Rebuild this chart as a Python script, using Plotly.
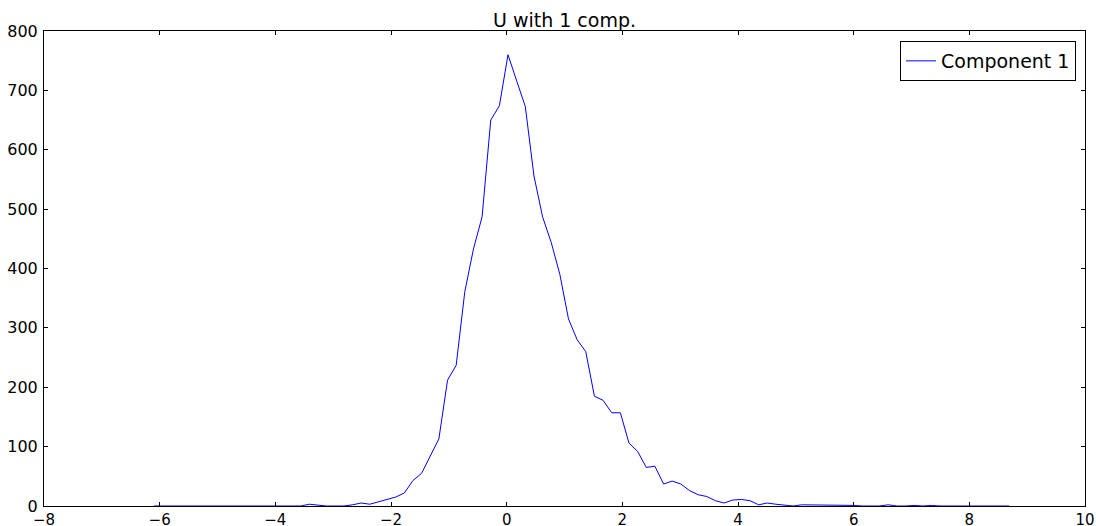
import plotly.graph_objects as go

bin_centers = [
    -6.102, -5.953, -5.803, -5.654, -5.504, -5.355, -5.206, -5.056, -4.907, -4.757,
    -4.608, -4.459, -4.309, -4.160, -4.010, -3.861, -3.712, -3.562, -3.413, -3.263,
    -3.114, -2.965, -2.815, -2.666, -2.516, -2.367, -2.218, -2.068, -1.919, -1.769,
    -1.620, -1.471, -1.321, -1.172, -1.022, -0.873, -0.724, -0.574, -0.425, -0.275,
    -0.126, 0.023, 0.173, 0.322, 0.472, 0.621, 0.770, 0.920, 1.069, 1.219,
    1.368, 1.517, 1.667, 1.816, 1.966, 2.115, 2.264, 2.414, 2.563, 2.713,
    2.862, 3.011, 3.161, 3.310, 3.460, 3.609, 3.758, 3.908, 4.057, 4.207,
    4.356, 4.505, 4.655, 4.804, 4.954, 5.103, 5.252, 5.402, 5.551, 5.701,
    5.850, 5.999, 6.149, 6.298, 6.448, 6.597, 6.746, 6.896, 7.045, 7.195,
    7.344, 7.493, 7.643, 7.792, 7.942, 8.091, 8.240, 8.390, 8.539, 8.689,
]

component_1 = [
    0, 0, 0, 0, 0, 0, 0, 0, 0, 0,
    0, 0, 0, 0, 0, 0, 1, 0, 3, 1,
    0, 0, 0, 2, 5, 3, 7, 11, 15, 22,
    43, 55, 83, 113, 212, 237, 361, 433, 487, 650,
    674, 760, 716, 673, 556, 487, 444, 390, 315, 280,
    260, 185, 178, 157, 157, 106, 92, 65, 67, 37,
    42, 37, 26, 19, 16, 9, 5, 10, 11, 9,
    2, 5, 3, 1, 0, 2, 2, 1, 1, 2,
    1, 1, 0, 0, 0, 2, 0, 0, 1, 0,
    1, 0, 0, 0, 0, 0, 0, 0, 0, 0,
]

x_ticks = [-8, -6, -4, -2, 0, 2, 4, 6, 8, 10]
y_ticks = [0, 100, 200, 300, 400, 500, 600, 700, 800]

fig = go.Figure()
fig.add_trace(go.Scatter(
    x=bin_centers, y=component_1, mode="lines", name="Component 1",
    line=dict(color="#0000ff", width=1),
))

axis_common = dict(
    showgrid=False, zeroline=False, showline=True, linecolor="#000000", linewidth=1,
    mirror="ticks", ticks="inside", ticklen=4, tickwidth=1, tickcolor="#000000",
    automargin=False,
)

fig.update_layout(
    width=1096, height=526,
    margin=dict(l=44, r=11, t=31, b=20),
    paper_bgcolor="white", plot_bgcolor="white",
    font=dict(family="DejaVu Sans", color="#000000"),
    title=dict(text="U with 1 comp.", x=0.5, xref="paper", y=1 - 20 / 526, yref="container",
               xanchor="center", yanchor="middle", automargin=False,
               font=dict(size=19, family="DejaVu Sans")),
    xaxis=dict(range=[-8, 10], tickvals=x_ticks,
               ticktext=[str(v).replace("-", "\u2212") for v in x_ticks],
               ticklabelstandoff=0,
               tickfont=dict(family="DejaVu Sans", size=15, color="#000000"),
               **axis_common),
    yaxis=dict(range=[0, 800], tickvals=y_ticks, ticktext=[str(v) for v in y_ticks],
               ticklabelstandoff=2,
               tickfont=dict(family="DejaVu Sans", size=16, color="#000000"),
               **axis_common),
    legend=dict(x=(1076 - 44) / 1041, y=(506 - 41) / 475, xanchor="right", yanchor="top",
                bordercolor="#000000", borderwidth=1, bgcolor="white",
                font=dict(size=19, family="DejaVu Sans")),
    showlegend=True,
)

fig.write_html("out.html")
